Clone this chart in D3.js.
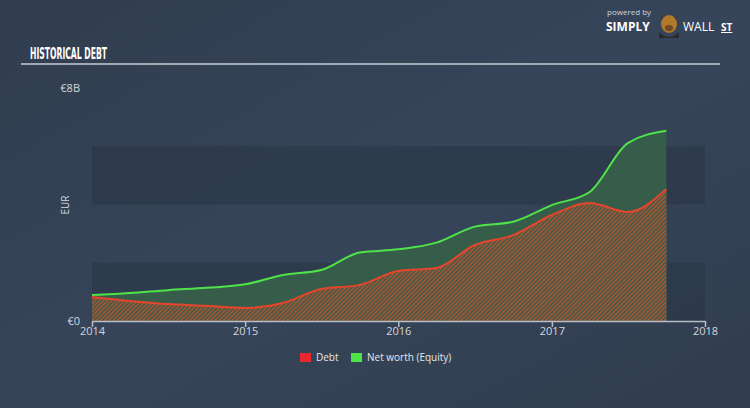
<!DOCTYPE html>
<html><head><meta charset="utf-8">
<script src="https://cdn.jsdelivr.net/npm/d3@7"></script>
<style>body{margin:0;background:#344254;}svg{display:block;}</style>
</head><body>
<svg id="c" width="750" height="408"></svg>
<script>
const dates = ["2014-01-01","2014-04-01","2014-07-01","2014-10-01","2015-01-01","2015-04-01","2015-07-01","2015-10-01","2016-01-01","2016-04-01","2016-07-01","2016-10-01","2017-01-01","2017-04-01","2017-07-01","2017-10-01"];
const debt = [0.82,0.69,0.58,0.52,0.45,0.62,1.10,1.24,1.72,1.82,2.61,2.95,3.64,4.05,3.74,4.53];
const equity = [0.89,0.96,1.06,1.14,1.26,1.58,1.75,2.35,2.46,2.69,3.24,3.41,3.98,4.43,6.11,6.53];
const yearTicks = ["2014","2015","2016","2017","2018"];
const yTickLabels = ["€0","€8B"];
const legendItems = ["Debt","Net worth (Equity)"];

const svg = d3.select("#c");
const W=750,H=408;
const L=92,R=705,T=88,B=321;
const parse = d3.timeParse("%Y-%m-%d");
const x = d3.scaleTime().domain([parse("2014-01-01"),parse("2018-01-01")]).range([L,R]);
const y = d3.scaleLinear().domain([0,8]).range([B,T]);

const defs = svg.append("defs");
const g0 = defs.append("linearGradient").attr("id","bg").attr("x1",0).attr("y1",0).attr("x2",1).attr("y2",1);
g0.append("stop").attr("offset","0%").attr("stop-color","#313d4e");
g0.append("stop").attr("offset","50%").attr("stop-color","#36455a");
g0.append("stop").attr("offset","100%").attr("stop-color","#313d4e");
svg.append("rect").attr("width",W).attr("height",H).attr("fill","url(#bg)");

const pat = defs.append("pattern").attr("id","hatch").attr("patternUnits","userSpaceOnUse")
  .attr("width",3).attr("height",3).attr("patternTransform","rotate(45)");
pat.append("rect").attr("width",3).attr("height",3).attr("fill","#3f5a48");
pat.append("rect").attr("width",1.3).attr("height",3).attr("fill","#b8552f");

[[0,2],[4,6]].forEach(b=>{
  svg.append("rect").attr("x",L).attr("width",R-L).attr("y",y(b[1])).attr("height",y(b[0])-y(b[1]))
    .attr("fill","#2c3848").attr("opacity",0.75);
});

svg.append("text").attr("x",30).attr("y",59).text("HISTORICAL DEBT")
  .attr("font-family","DejaVu Sans Condensed").attr("font-weight","bold").attr("font-size",15)
  .attr("fill","#ffffff").attr("textLength",77).attr("lengthAdjust","spacingAndGlyphs");
svg.append("line").attr("x1",21).attr("x2",720).attr("y1",64).attr("y2",64).attr("stroke","#c9ced6").attr("stroke-width",1.5);

svg.append("text").attr("x",607).attr("y",15).text("powered by").attr("font-family","Open Sans").attr("font-size",8).attr("fill","#d0d4da");
svg.append("text").attr("x",606).attr("y",31).text("SIMPLY").attr("font-family","Open Sans").attr("font-weight","bold").attr("font-size",12).attr("fill","#ffffff");
svg.append("text").attr("x",683).attr("y",31).text("WALL").attr("font-family","Open Sans").attr("font-size",12).attr("fill","#ffffff");
svg.append("text").attr("x",721).attr("y",31).text("ST").attr("font-family","Open Sans").attr("font-weight","bold").attr("font-size",10).attr("fill","#ffffff").attr("text-decoration","underline");
const logo = svg.append("g").attr("transform","translate(669,24)");
logo.append("path").attr("d","M-10,-12 L-7,-4 L7,-4 L10,-12 L6,-6 L-6,-6 Z").attr("fill","#3a3a3a");
logo.append("ellipse").attr("rx",8).attr("ry",9).attr("cy",0).attr("fill","#b07a2a");
logo.append("path").attr("d","M-10,8 Q0,18 10,8 L10,14 L-10,14 Z").attr("fill","#2a2a2a");
logo.append("ellipse").attr("rx",4).attr("ry",3).attr("cy",4).attr("fill","#6b4a24");

const pts = dates.map((d,i)=>({d:parse(d),debt:debt[i],eq:equity[i]}));
const curve = d3.curveMonotoneX;
svg.append("path").datum(pts).attr("d",d3.area().curve(curve).x(d=>x(d.d)).y0(y(0)).y1(d=>y(d.eq)))
  .attr("fill","#355d49");
svg.append("path").datum(pts).attr("d",d3.area().curve(curve).x(d=>x(d.d)).y0(y(0)).y1(d=>y(d.debt)))
  .attr("fill","url(#hatch)");
svg.append("path").datum(pts).attr("d",d3.line().curve(curve).x(d=>x(d.d)).y(d=>y(d.eq)))
  .attr("fill","none").attr("stroke","#4fe34a").attr("stroke-width",2);
svg.append("path").datum(pts).attr("d",d3.line().curve(curve).x(d=>x(d.d)).y(d=>y(d.debt)))
  .attr("fill","none").attr("stroke","#e6452c").attr("stroke-width",2);

const xa = svg.append("g").attr("transform",`translate(0,${B})`)
  .call(d3.axisBottom(x).tickValues(yearTicks.map(t=>parse(t+"-01-01"))).tickFormat(d3.timeFormat("%Y")).tickSize(6).tickSizeOuter(0));
xa.select(".domain").attr("stroke","#b8bec8").attr("stroke-width",1.5);
xa.selectAll(".tick line").attr("stroke","#b8bec8").attr("stroke-width",1.5);
xa.selectAll(".tick text").attr("fill","#d4d8de").attr("font-family","Open Sans").attr("font-size",11).attr("dy","0.7em").attr("y",6);

const yvals=[0,8];
yvals.forEach((v,i)=>{
  svg.append("text").attr("x",80).attr("y",y(v)).attr("dy","0.35em").attr("text-anchor","end")
    .text(yTickLabels[i]).attr("font-family","Open Sans").attr("font-size",11).attr("fill","#d4d8de");
});
svg.append("text").attr("transform",`translate(69,205) rotate(-90)`).attr("text-anchor","middle")
  .text("EUR").attr("font-family","Open Sans").attr("font-size",10).attr("fill","#d4d8de");

const lg = svg.append("g");
const lcols = ["#e8282c","#4fe34a"];
const lx = [300,351];
legendItems.forEach((t,i)=>{
  lg.append("rect").attr("x",lx[i]).attr("y",353).attr("width",11).attr("height",9).attr("fill",lcols[i]);
  lg.append("text").attr("x",lx[i]+16).attr("y",361).text(t).attr("font-family","Open Sans").attr("font-size",10).attr("fill","#e4e7eb");
});
</script>
</body></html>
